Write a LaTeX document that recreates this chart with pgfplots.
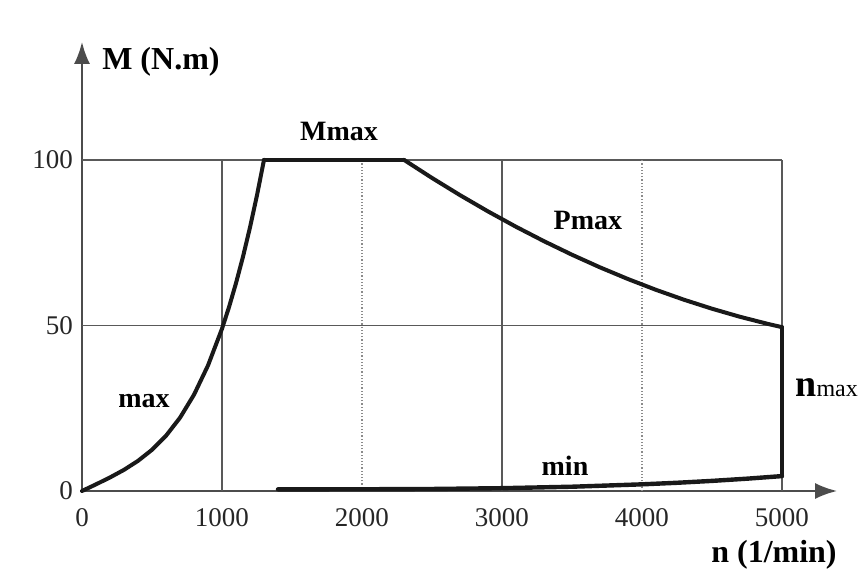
\documentclass[border=0pt]{standalone}
\usepackage{fontspec}
\setmainfont{Liberation Serif}
\usepackage{pgfplots}
\pgfplotsset{compat=1.18}
\usetikzlibrary{arrows.meta}
\definecolor{gridc}{gray}{0.35}
\begin{document}
\begin{tikzpicture}
\useasboundingbox (-41pt,-40.5pt) rectangle (390pt,245.5pt);
\begin{axis}[
  at={(0pt,0pt)}, anchor=south west,
  scale only axis, width=377.5pt, height=224.5pt,
  xmin=0, xmax=5393, ymin=0, ymax=135.6,
  axis lines=left,
  axis line style={line width=1pt, color=black!70, -{Latex[length=11pt,width=8pt]}},
  xtick={0,1000,2000,3000,4000,5000},
  xticklabels={0,1000,2000,3000,4000,5000},
  ytick={0,50,100},
  yticklabels={0,50,100},
  major tick length=0pt,
  tick style={draw=none},
  ticklabel style={font=\fontsize{13.5}{13.5}\selectfont, text=black!85},
  xticklabel style={yshift=-5pt},
  yticklabel style={xshift=-1pt},
  clip=false,
]
% grid
\addplot[gridc, line width=0.9pt] coordinates {(0,100)(5000,100)};
\addplot[gridc, line width=0.6pt] coordinates {(0,50)(5000,50)};
\addplot[gridc, line width=0.6pt] coordinates {(1000,0)(1000,100)};
\addplot[gridc, line width=0.6pt] coordinates {(3000,0)(3000,100)};
\addplot[gridc, line width=0.6pt] coordinates {(5000,0)(5000,100)};
\addplot[gridc!70, line width=0.6pt, densely dotted] coordinates {(2000,0)(2000,100)};
\addplot[gridc!70, line width=0.6pt, densely dotted] coordinates {(4000,0)(4000,100)};
% characteristic
\addplot[black!90, line width=2pt, line cap=round, line join=round] coordinates {
 (0,0)(100,2.01)(200,4.09)(300,6.39)(400,9.10)(500,12.44)(600,16.68)(700,22.12)(800,29.08)(900,37.91)(1000,49)(1050,55.52)(1100,62.76)(1150,70.76)(1200,79.60)(1250,89.32)(1300,100)};
\addplot[black!90, line width=2pt, line cap=round] coordinates {(1300,100)(2300,100)};
\addplot[black!90, line width=2pt, line cap=round, line join=round] coordinates {
 (2300,100)(2500,94.54)(2700,89.35)(2900,84.44)(3100,79.80)(3300,75.44)(3500,71.35)(3700,67.54)(3900,64.01)(4100,60.75)(4300,57.76)(4500,55.05)(4700,52.61)(4900,50.45)(5000,49.48)};
\addplot[black!90, line width=2pt, line cap=round] coordinates {(5000,49.48)(5000,4.5)};
\addplot[black!90, line width=2.2pt, line cap=round, line join=round] coordinates {
 (5000,4.5)(4750,3.72)(4500,3.05)(4250,2.48)(4000,2.01)(3500,1.29)(3000,0.85)(2500,0.61)(2000,0.52)(1400,0.5)};
% labels
\node[font=\fontsize{16}{16}\selectfont\bfseries] at (axis cs:564,129.6) {M (N.m)};
\node[font=\fontsize{14}{14}\selectfont\bfseries] at (axis cs:1836,108.5) {Mmax};
\node[font=\fontsize{14}{14}\selectfont\bfseries] at (axis cs:3614,81.6) {Pmax};
\node[font=\fontsize{14}{14}\selectfont\bfseries] at (axis cs:443,27.2) {max};
\node[font=\fontsize{14}{14}\selectfont\bfseries] at (axis cs:3450,7.6) {min};
\node[anchor=west, inner sep=0pt] at (axis cs:5093,31.1) {{\fontsize{19}{19}\selectfont\bfseries n}{\fontsize{12}{12}\selectfont max}};
\node[font=\fontsize{16}{16}\selectfont\bfseries] at (axis cs:4943,-19.3) {n (1/min)};
\end{axis}
\end{tikzpicture}
\end{document}
